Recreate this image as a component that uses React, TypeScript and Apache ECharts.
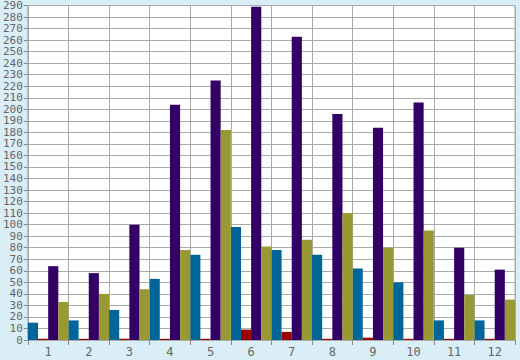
import React, { useEffect, useRef } from "react";
import * as echarts from "echarts";

const categories = ["1", "2", "3", "4", "5", "6", "7", "8", "9", "10", "11", "12"];
const blueSeries = [15, 17, 26, 53, 74, 98, 78, 74, 62, 50, 17, 17];
const redSeries = [1, 1, 1, 1, 1, 9, 7, 1, 2, 1, 1, 1];
const purpleSeries = [64, 58, 100, 204, 225, 289, 263, 196, 184, 206, 80, 61];
const oliveSeries = [33, 40, 44, 78, 182, 81, 87, 110, 80, 95, 39, 35];

const FONT = "'DejaVu Sans Mono', monospace";

export default function App() {
  const ref = useRef<HTMLDivElement>(null);
  useEffect(() => {
    document.body.style.margin = "0";
    const chart = echarts.init(ref.current!, null, { renderer: "svg" });
    const mk = (name: string, data: number[], color: string) => ({
      name,
      type: "bar",
      data,
      barGap: "0%",
      barCategoryGap: "0%",
      itemStyle: { color },
    });
    chart.setOption({
      animation: false,
      backgroundColor: "#d9eef6",
      grid: {
        left: 26,
        right: 5,
        top: 5,
        bottom: 20,
        show: true,
        backgroundColor: "#ffffff",
        borderColor: "#aaaaaa",
        borderWidth: 1,
      },
      xAxis: {
        type: "category",
        data: categories,
        axisLine: { show: true, lineStyle: { color: "#aaaaaa" } },
        axisTick: { show: true, length: 5, lineStyle: { color: "#888888" } },
        axisLabel: { color: "#666666", fontFamily: FONT, fontSize: 12, margin: 6 },
        splitLine: { show: true, lineStyle: { color: "#aaaaaa", width: 1 } },
      },
      yAxis: {
        type: "value",
        min: 0,
        max: 290,
        interval: 10,
        axisLine: { show: true, lineStyle: { color: "#aaaaaa" } },
        axisTick: { show: true, length: 4, lineStyle: { color: "#888888" } },
        axisLabel: {
          color: "#666666",
          fontFamily: FONT,
          fontSize: 11,
          lineHeight: 11,
          margin: 5,
          showMinLabel: true,
          showMaxLabel: true,
          hideOverlap: false,
        },
        splitLine: { show: true, lineStyle: { color: "#aaaaaa", width: 1 } },
      },
      series: [
        mk("Blue", blueSeries, "#006699"),
        mk("Red", redSeries, "#990000"),
        mk("Purple", purpleSeries, "#330066"),
        mk("Olive", oliveSeries, "#999933"),
      ],
    });
    return () => chart.dispose();
  }, []);
  return <div ref={ref} style={{ width: 520, height: 360 }} />;
}
